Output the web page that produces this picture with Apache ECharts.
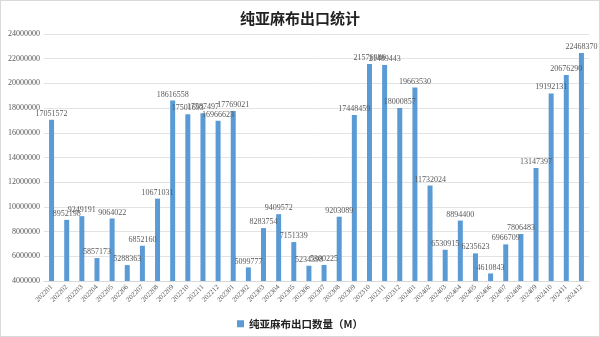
<!DOCTYPE html>
<html><head><meta charset="utf-8">
<script src="https://cdn.jsdelivr.net/npm/echarts@6/dist/echarts.min.js"></script>
<style>html,body{margin:0;padding:0;background:#fff}#c{width:598px;height:335px;border:1px solid #d9d9d9}</style>
</head><body><div id="c"></div>
<script>
const categories = ['202201','202202','202203','202204','202205','202206','202207','202208','202209','202210','202211','202212',
'202301','202302','202303','202304','202305','202306','202307','202308','202309','202310','202311','202312',
'202401','202402','202403','202404','202405','202406','202407','202408','202409','202410','202411','202412'];
const values = [17051572,8952198,9249191,5857173,9064022,5288363,6852160,10671031,18616558,17501693,17587497,16966623,
17769021,5099777,8283754,9409572,7151339,5234398,5300225,9203089,17448459,21576986,21489443,18000857,
19663530,11732024,6530915,8894400,6235623,4610843,6966709,7806483,13147397,19192131,20676290,22468370];
const seriesName = '纯亚麻布出口数量（M）';
const chart = echarts.init(document.getElementById('c'));
chart.setOption({
  animation:false,
  title:{text:'纯亚麻布出口统计',left:'center',top:5,textStyle:{fontSize:15,fontWeight:'bold',color:'#222',fontFamily:'Noto Sans CJK SC'}},
  grid:{left:43,right:10,top:33,bottom:55},
  legend:{bottom:2,left:'center',itemWidth:7,itemHeight:7,icon:'rect',textStyle:{fontSize:10.5,fontWeight:'bold',color:'#222',fontFamily:'Noto Sans CJK SC'},data:[seriesName]},
  xAxis:{type:'category',data:categories,axisTick:{show:false},axisLine:{lineStyle:{color:'#d9d9d9'}},
    axisLabel:{rotate:45,fontSize:7,color:'#595959',interval:0,margin:5,fontFamily:'Liberation Serif'}},
  yAxis:{type:'value',min:4000000,max:24000000,interval:2000000,axisLine:{show:false},axisTick:{show:false},
    splitLine:{lineStyle:{color:'#e3e3e3'}},axisLabel:{fontSize:8,color:'#595959',margin:4,fontFamily:'Liberation Serif',formatter:v=>String(v)}},
  series:[{name:seriesName,type:'bar',data:values,barWidth:5,itemStyle:{color:'#5B9BD5'},
    label:{show:true,position:'top',fontSize:8,color:'#595959',distance:2,fontFamily:'Liberation Serif'}}]
});
</script></body></html>
